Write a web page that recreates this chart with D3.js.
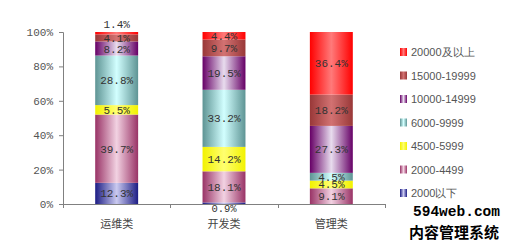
<!DOCTYPE html>
<html lang="zh">
<head>
<meta charset="UTF-8">
<title>salary chart</title>
<script src="https://d3js.org/d3.v7.min.js"></script>
<style>
body { margin: 0; background: #fff; }
svg { display: block; }
.tick text { fill: #555; }
</style>
</head>
<body>
<script>
// data
const categories = ["运维类", "开发类", "管理类"];
const seriesNames = ["2000以下", "2000-4499", "4500-5999", "6000-9999", "10000-14999", "15000-19999", "20000及以上"];
const opsValues = [12.3, 39.7, 5.5, 28.8, 8.2, 4.1, 1.4];
const devValues = [0.9, 18.1, 14.2, 33.2, 19.5, 9.7, 4.4];
const mgmtValues = [0, 9.1, 4.5, 4.5, 27.3, 18.2, 36.4];
const yTicks = [0, 20, 40, 60, 80, 100];

// edge / centre colours of each series gradient
const edgeColors = ["#1c1c84", "#993366", "#f2f200", "#5e9494", "#660066", "#993838", "#ff0000"];
const midColors  = ["#cacaf0", "#f2d2e2", "#ffff70", "#d2ffff", "#e8dcee", "#d27272", "#ff7a7a"];

const W = 518, H = 243;
const svg = d3.select("body").append("svg").attr("width", W).attr("height", H);

const rows = categories.map((c, i) => {
  const vals = [opsValues, devValues, mgmtValues][i];
  const r = { cat: c };
  seriesNames.forEach((s, j) => r[s] = vals[j]);
  return r;
});
const stacked = d3.stack().keys(seriesNames)(rows);

const x = d3.scaleBand().domain(categories).range([63, 385]).paddingInner(0.6).paddingOuter(0.3);
const y = d3.scaleLinear().domain([0, 100]).range([204, 32]);

// gradients
const defs = svg.append("defs");
seriesNames.forEach((s, j) => {
  const g = defs.append("linearGradient").attr("id", "g" + j)
    .attr("x1", "0%").attr("x2", "100%").attr("y1", "0%").attr("y2", "0%");
  g.append("stop").attr("offset", "0%").attr("stop-color", edgeColors[j]);
  g.append("stop").attr("offset", "50%").attr("stop-color", midColors[j]);
  g.append("stop").attr("offset", "100%").attr("stop-color", edgeColors[j]);
});

// y axis
const yAxis = svg.append("g").attr("transform", "translate(63,0)")
  .call(d3.axisLeft(y).tickValues(yTicks).tickFormat(d => d + "%").tickSize(4).tickPadding(6));
yAxis.select(".domain").attr("stroke", "#808080");
yAxis.selectAll(".tick line").attr("stroke", "#808080");
yAxis.selectAll("text").attr("font-family", "Liberation Mono, monospace").attr("font-size", 11).attr("fill", "#555");

// bars
const layers = svg.append("g").selectAll("g").data(stacked).enter().append("g")
  .attr("fill", (d, j) => "url(#g" + j + ")");
layers.selectAll("rect").data(d => d.filter(p => p[1] - p[0] > 0)).enter().append("rect")
  .attr("x", d => x(d.data.cat))
  .attr("width", x.bandwidth())
  .attr("y", d => y(d[1]))
  .attr("height", d => y(d[0]) - y(d[1]));

// x axis (ticks between categories)
const xg = svg.append("g");
xg.append("line").attr("x1", 63).attr("x2", 385).attr("y1", 204.5).attr("y2", 204.5).attr("stroke", "#808080");
d3.range(categories.length + 1).forEach(i => {
  const tx = Math.round(63 + i * (322 / categories.length)) + 0.5;
  xg.append("line").attr("x1", tx).attr("x2", tx).attr("y1", 204).attr("y2", 208).attr("stroke", "#808080");
});
xg.selectAll("text.cat").data(categories).enter().append("text")
  .attr("x", d => x(d) + x.bandwidth() / 2)
  .attr("y", 228)
  .attr("text-anchor", "middle")
  .attr("font-family", "Noto Sans CJK SC, sans-serif")
  .attr("font-size", 11)
  .attr("fill", "#444")
  .text(d => d);

// value labels
const labels = svg.append("g");
stacked.forEach((layer, j) => {
  layer.forEach(p => {
    const v = p[1] - p[0];
    if (v <= 0) return;
    const h = y(p[0]) - y(p[1]);
    let ly, fs = 11;
    if (h < 4 && j === seriesNames.length - 1) ly = y(p[1]) - 4;
    else if (h < 4 && j === 0) { ly = y(0) + 7.5; fs = 10.5; }
    else ly = (y(p[0]) + y(p[1])) / 2 + 4;
    labels.append("text")
      .attr("x", x(p.data.cat) + x.bandwidth() / 2)
      .attr("y", ly)
      .attr("text-anchor", "middle")
      .attr("font-family", "Liberation Mono, monospace")
      .attr("font-size", fs)
      .attr("fill", "#333")
      .text(v.toFixed(1) + "%");
  });
});

// legend
const legend = svg.append("g");
seriesNames.slice().reverse().forEach((s, i) => {
  const j = seriesNames.length - 1 - i;
  const ly = 52 + i * 23.5;
  legend.append("rect").attr("x", 400).attr("y", ly - 4).attr("width", 7).attr("height", 8)
    .attr("fill", "url(#g" + j + ")");
  legend.append("text").attr("x", 411).attr("y", ly + 4)
    .attr("font-family", "Liberation Sans, Arial, sans-serif")
    .attr("font-size", 11)
    .attr("fill", "#555")
    .text(s);
});

// watermark
svg.append("text").attr("x", 413).attr("y", 216)
  .attr("font-family", "Liberation Mono, monospace").attr("font-weight", "bold")
  .attr("font-size", 14.5).attr("fill", "#000").text("594web.com");
svg.append("text").attr("x", 409).attr("y", 238)
  .attr("font-family", "Noto Sans CJK SC, sans-serif").attr("font-weight", "bold")
  .attr("font-size", 15).attr("fill", "#000").text("内容管理系统");
</script>
</body>
</html>
